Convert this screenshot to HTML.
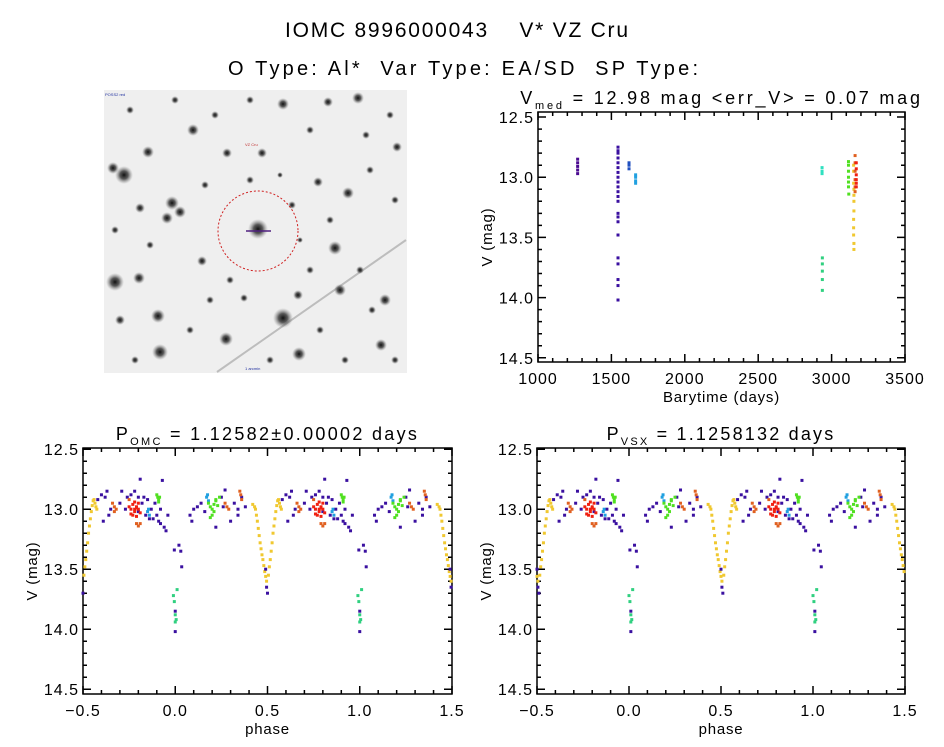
<!DOCTYPE html>
<html><head><meta charset="utf-8"><style>
html,body{margin:0;padding:0;background:#fff;}
svg{display:block;font-family:"Liberation Sans",sans-serif;}
</style></head><body>
<svg id="root" width="944" height="747" viewBox="0 0 944 747">
<rect x="0" y="0" width="944" height="747" fill="#fff"/>
<text x="285" y="37" font-size="21" textLength="343" lengthAdjust="spacing" style="white-space:pre">IOMC 8996000043    V* VZ Cru</text>
<text x="228" y="75" font-size="20" textLength="470" lengthAdjust="spacing" style="white-space:pre">O Type: Al*  Var Type: EA/SD  SP Type:</text>
<g id="img"></g>
<g id="p1"></g>
<g id="p2"></g>
<g id="p3"></g>
</svg>
<script>
// ---- data: light curve (time, mag) by color group ----
const tPurpleA=[1270,1270,1270,1270,1270];
const mPurpleA=[12.85,12.88,12.91,12.94,12.97];
const tPurpleB=[1545,1545,1545,1545,1545,1545,1545,1545,1545,1545,1545,1545,1545,1545,1545,1545,1545,1545,1545,1545,1545,1545];
const mPurpleB=[12.75,12.8,12.84,12.88,12.92,12.96,13.0,13.04,13.08,13.12,13.16,13.2,13.3,13.33,13.37,13.48,13.67,13.72,13.85,13.9,14.02,12.78];
const tBlue=[1620,1620,1620];
const mBlue=[12.88,12.9,12.93];
const tCyanB=[1665,1665,1665,1665];
const mCyanB=[12.98,13.0,13.03,13.05];
const tCyan=[2935,2935,2935];
const mCyan=[12.92,12.95,12.97];
const tSpring=[2937,2937,2937,2937,2937];
const mSpring=[13.67,13.72,13.78,13.85,13.94];
const tLime=[3115,3115,3115,3115,3115,3115,3117];
const mLime=[12.87,12.9,12.95,13.0,13.04,13.08,13.14];
const tYellow=[3150,3150,3150,3152,3152,3152,3152,3150,3150,3150,3152,3152];
const mYellow=[12.9,12.95,13.05,13.1,13.15,13.2,13.28,13.35,13.42,13.48,13.55,13.6];
const tOrange=[3160,3160,3160,3160,3160,3160];
const mOrange=[12.82,12.88,12.95,13.02,13.08,13.12];
const tRed=[3168,3168,3168,3168,3168,3168];
const mRed=[12.88,12.93,12.98,13.02,13.05,13.08];

// ---- data: phase (-0.5..0.5) & mag by color group ----
const phYellow=[0.42,0.43,0.435,0.44,0.445,0.45,0.455,0.46,0.465,0.47,0.475,0.48,0.485,0.49,0.495,-0.495,-0.49,-0.485,-0.48,-0.475,-0.47,-0.465,-0.46,-0.455,-0.45,-0.445,-0.44,-0.435,-0.43,-0.425];
const mgYellow=[12.96,12.98,13.0,13.05,13.1,13.16,13.22,13.28,13.33,13.38,13.42,13.47,13.52,13.56,13.6,13.55,13.48,13.42,13.35,13.28,13.2,13.14,13.08,13.02,12.97,12.93,12.92,12.95,12.98,13.0];
const phPurple=[-0.4,-0.39,-0.38,-0.37,-0.36,-0.3,-0.29,-0.27,-0.26,-0.24,-0.19,-0.18,-0.17,-0.16,-0.15,-0.13,-0.12,-0.11,-0.1,-0.09,-0.08,-0.07,-0.06,-0.05,-0.04,0.08,0.09,0.1,0.12,0.14,0.16,0.22,0.25,0.27,0.3,0.32,0.34,0.36,0.38,-0.42,-0.35,-0.22,-0.2,-0.14,
 0.0,0.0,-0.005,0.02,0.03,0.035,0.49,0.495,0.5,-0.2,-0.08,0.26,0.34];
const mgPurple=[12.88,13.1,12.9,12.85,13.05,12.95,12.85,13.0,12.9,12.88,12.75,12.95,12.9,13.05,12.92,13.0,13.08,12.95,13.05,13.1,13.12,12.76,13.15,13.18,13.05,13.05,13.1,13.0,12.98,12.95,13.02,13.15,12.9,12.84,13.1,12.95,13.0,12.9,12.98,12.92,13.0,12.85,12.9,13.08,
 14.02,13.85,13.34,13.3,13.35,13.48,13.5,13.65,13.7,13.02,13.0,12.98,13.05];
const phLime=[-0.1,-0.095,-0.09,-0.085,-0.09,0.18,0.19,0.2,0.21,0.22,0.23,0.2,0.24,0.21,0.19,0.22];
const mgLime=[12.88,12.9,12.92,12.9,12.94,12.95,12.98,13.0,12.96,12.93,12.97,13.05,12.9,13.02,13.07,12.92];
const phSpring=[-0.01,-0.005,0.0,0.005,0.01,0.0];
const mgSpring=[13.72,13.77,13.94,13.92,13.67,13.88];
const phRed=[-0.25,-0.24,-0.23,-0.22,-0.21,-0.2,-0.19,-0.23,-0.22,-0.21,-0.2,-0.24,-0.22,-0.21];
const mgRed=[12.98,13.0,12.96,13.02,12.98,13.0,13.03,13.05,12.94,13.06,12.95,13.04,13.0,12.99];
const phOrange=[-0.34,-0.33,-0.32,-0.33,-0.21,-0.2,-0.19,0.27,0.28,0.29,0.35,0.355,0.36,-0.25];
const mgOrange=[12.95,12.98,13.0,13.02,13.12,13.14,13.12,12.95,12.98,13.0,12.85,12.88,12.92,12.92];
const phCyan=[-0.15,-0.145,-0.14,0.17,0.175,0.18];
const mgCyan=[13.02,13.0,13.05,12.9,12.88,12.93];

const NS='http://www.w3.org/2000/svg';
function mk(parent,tag,attrs){const e=document.createElementNS(NS,tag);for(const k in attrs)e.setAttribute(k,attrs[k]);parent.appendChild(e);return e;}

// ---- sky image ----
const img=document.getElementById('img');
const defs=mk(img,'defs',{});
const rg=mk(defs,'radialGradient',{id:'star'});
mk(rg,'stop',{offset:'0','stop-color':'#111','stop-opacity':'1'});
mk(rg,'stop',{offset:'0.45','stop-color':'#333','stop-opacity':'0.8'});
mk(rg,'stop',{offset:'1','stop-color':'#888','stop-opacity':'0'});
const bg=mk(img,'rect',{x:104,y:90,width:303,height:283,fill:'#efefef'});


const streak=mk(img,'line',{x1:217,y1:372,x2:406,y2:240,stroke:'#a8a8a8','stroke-width':2,opacity:0.7});


const starXY=[[124,175,9],[115,282,9],[283,318,10],[258,229,10],[160,352,8],[193,130,6],[148,152,6],[172,203,7],[180,212,6],[167,218,6],[335,248,7],[348,193,6],[226,339,7],[299,354,7],[158,316,7],[283,104,6],[358,98,6],[381,345,6],[385,300,6],[202,261,5],[140,208,5],[262,153,5],[227,153,5],[340,290,6],[298,295,5],[328,102,5],[397,147,5],[318,182,5],[139,278,6],[113,168,6],[244,298,4],[310,270,4],[372,310,4],[120,320,5],[210,300,4],[330,220,4],[366,135,4],[150,245,4],[250,180,4],[292,205,4],[130,110,4],[175,100,4],[215,115,4],[310,130,4],[390,115,4],[370,170,4],[395,200,4],[300,240,3],[230,280,4],[190,330,4],[270,360,4],[345,360,4],[395,360,4],[135,360,4],[115,230,4],[205,185,4],[280,175,3],[360,270,4],[320,330,4],[250,100,4]];
starXY.forEach(s=>{const c=mk(img,'circle',{cx:s[0],cy:s[1],r:s[2],fill:'url(#star)'});

});
const circ=mk(img,'circle',{cx:258,cy:231,r:40,fill:'none',stroke:'#d02020','stroke-width':1,'stroke-dasharray':'2,2'});


mk(img,'line',{x1:246,y1:231,x2:271,y2:231,stroke:'#502080','stroke-width':1.5});
mk(img,'text',{x:245,y:146,'font-size':4,fill:'#c03030'}).textContent='VZ Cru';
mk(img,'text',{x:105,y:96,'font-size':4,fill:'#2030a0'}).textContent='POSS2 red';
mk(img,'text',{x:245,y:370,'font-size':4,fill:'#2030a0'}).textContent='1 arcmin';

// ---- axes helper ----
function panel(g,x0,x1,y0,y1,xmin,xmax,ymin,ymax,xMaj,xMin,yMaj,yMin,xLabels,yLabels,title,xTitle,tls){
  const sx=v=>x0+(v-xmin)/(xmax-xmin)*(x1-x0);
  const sy=v=>y0+(v-ymin)/(ymax-ymin)*(y1-y0);
  const fr=mk(g,'rect',{x:x0,y:y0,width:x1-x0,height:y1-y0,fill:'none',stroke:'#000','stroke-width':1.5});
  
  
  let p='';
  xMin.forEach(v=>{const X=sx(v);p+=`M${X},${y1}v-4M${X},${y0}v4`;});
  xMaj.forEach(v=>{const X=sx(v);p+=`M${X},${y1}v-8M${X},${y0}v8`;});
  yMin.forEach(v=>{const Y=sy(v);p+=`M${x0},${Y}h4M${x1},${Y}h-4`;});
  yMaj.forEach(v=>{const Y=sy(v);p+=`M${x0},${Y}h8M${x1},${Y}h-8`;});
  const tk=mk(g,'path',{d:p,stroke:'#000','stroke-width':1.5,fill:'none'});
  
  
  xMaj.forEach((v,i)=>{const t=mk(g,'text',{x:sx(v),y:y1+22,'font-size':16,'text-anchor':'middle','letter-spacing':1});t.textContent=xLabels[i];
    
    });
  yMaj.forEach((v,i)=>{const t=mk(g,'text',{x:x0-4,y:sy(v)+6,'font-size':16,'text-anchor':'end','letter-spacing':1});t.textContent=yLabels[i];
    
    });
  const xt=mk(g,'text',{x:(x0+x1)/2,y:y1+40,'font-size':15,'text-anchor':'middle','letter-spacing':0.8});xt.textContent=xTitle;
  
  
  const yt=mk(g,'text',{x:0,y:0,'font-size':15,'text-anchor':'middle','letter-spacing':0.8,transform:`translate(${x0-46},${(y0+y1)/2}) rotate(-90)`});yt.textContent='V (mag)';
  
  
  const tt=mk(g,'text',{x:(x0+x1)/2,y:y0-8,'font-size':18,'text-anchor':'middle','letter-spacing':tls});tt.innerHTML=title;
  
  
  return {sx,sy};
}
function range(a,b,s){const r=[];for(let v=a;v<=b+1e-9;v+=s)r.push(+v.toFixed(4));return r;}
const yMaj=[12.5,13.0,13.5,14.0,14.5], yLab=['12.5','13.0','13.5','14.0','14.5'];
const yMn=range(12.5,14.5,0.1);

// panel 1: light curve
const g1=document.getElementById('p1');
const a1=panel(g1,538,905,112,362,1000,3500,12.458,14.535,[1000,1500,2000,2500,3000,3500],range(1000,3500,100),yMaj,yMn,['1000','1500','2000','2500','3000','3500'],yLab,
 'V<tspan font-size="11" dy="5">med</tspan><tspan dy="-5"> = 12.98 mag &lt;err_V&gt; = 0.07 mag</tspan>','Barytime (days)',2.8);
function pts(g,ax,xs,ys,col,name,dup){
  xs.forEach((x,i)=>{const shifts=dup?[0,1]:[0];shifts.forEach(s=>{
    const X=ax.sx(x+s),Y=ax.sy(ys[i]);
    if(dup&&(x+s<-0.5||x+s>1.5))return;
    const r=mk(g,'rect',{x:X-1.5,y:Y-1.5,width:3,height:3,fill:col});
    
    
  });});
}
pts(g1,a1,tPurpleA,mPurpleA,'#4a0a90','point-purple');
pts(g1,a1,tPurpleB,mPurpleB,'#3a10a0','point-purple');
pts(g1,a1,tBlue,mBlue,'#2050c0','point-blue');
pts(g1,a1,tCyanB,mCyanB,'#20a0e0','point-cyan');
pts(g1,a1,tCyan,mCyan,'#30e0c0','point-cyan');
pts(g1,a1,tSpring,mSpring,'#30d080','point-green');
pts(g1,a1,tLime,mLime,'#50e020','point-lime');
pts(g1,a1,tYellow,mYellow,'#f0c830','point-yellow');
pts(g1,a1,tOrange,mOrange,'#e06020','point-orange');
pts(g1,a1,tRed,mRed,'#f02010','point-red');

// phase panels
const phaseShift=[0,0.01];
function phasePanel(g,x0,x1,title,k,tls){
  const a=panel(g,x0,x1,448,694,-0.5,1.5,12.49,14.54,[-0.5,0,0.5,1,1.5],range(-0.5,1.5,0.1),yMaj,yMn,['\u22120.5','0.0','0.5','1.0','1.5'],yLab,title,'phase',tls);
  const sh=phaseShift[k];
  const S=arr=>arr.map(v=>{let p=v+sh;if(p>=0.5)p-=1;return p;});
  pts(g,a,S(phYellow),mgYellow,'#f0c830','point-yellow',true);
  pts(g,a,S(phPurple),mgPurple,'#3a10a0','point-purple',true);
  pts(g,a,S(phOrange),mgOrange,'#e06020','point-orange',true);
  pts(g,a,S(phCyan),mgCyan,'#20a0e0','point-cyan',true);
  pts(g,a,S(phLime),mgLime,'#50e020','point-lime',true);
  pts(g,a,S(phSpring),mgSpring,'#30d080','point-green',true);
  pts(g,a,S(phRed),mgRed,'#f02010','point-red',true);
}
phasePanel(document.getElementById('p2'),83,452,'P<tspan font-size="11" dy="5">OMC</tspan><tspan dy="-5"> = 1.12582\u00b10.00002 days</tspan>',0,2.3);
phasePanel(document.getElementById('p3'),537,905,'P<tspan font-size="11" dy="5">VSX</tspan><tspan dy="-5"> = 1.1258132 days</tspan>',1,2.2);
</script>
</body></html>
